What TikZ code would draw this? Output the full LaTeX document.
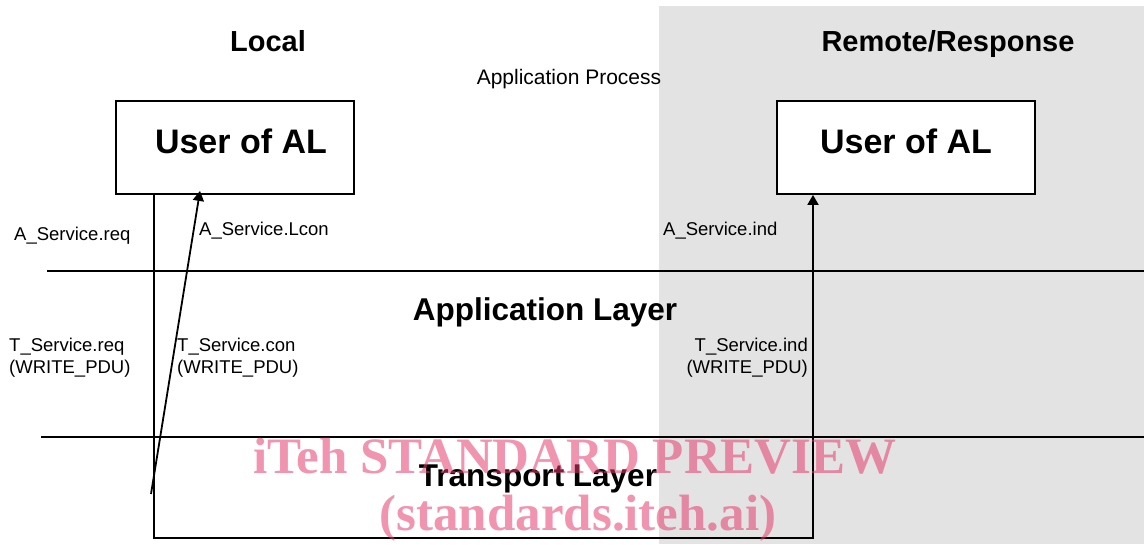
\documentclass[tikz,border=0pt]{standalone}
\usepackage{fontspec}
\setmainfont{Liberation Sans}
\newfontfamily\wmfont{Liberation Serif}
\usetikzlibrary{arrows.meta}
\definecolor{remotegray}{RGB}{227,227,227}
\definecolor{wmpink}{RGB}{230,60,110}
\tikzset{
  heading/.style={font=\fontsize{29}{32}\selectfont\bfseries, inner sep=0pt},
  userbox/.style={draw, line width=1.8pt, fill=white, inner sep=0pt,
    text height=24.5pt, text depth=12pt,
    font=\fontsize{34}{38}\selectfont\bfseries},
  layername/.style={font=\fontsize{31.5}{36}\selectfont\bfseries, inner sep=0pt},
  prim/.style={font=\fontsize{18.5}{22}\selectfont, inner sep=0pt},
  layerline/.style={line width=1.8pt},
  flow/.style={line width=1.8pt, -{Triangle[length=10pt,width=11pt]}},
  watermark/.style={font=\fontsize{51}{56}\selectfont\wmfont\bfseries,
    text=wmpink, text opacity=0.55, inner sep=0pt}
}
\begin{document}
\begin{tikzpicture}[x=1pt, y=-1pt]
\useasboundingbox (0,0) rectangle (1144,544);
% shaded remote side
\fill[remotegray] (659,6) rectangle (1144,544);

% headings
\node[heading, anchor=base] (local) at (268,51) {Local};
\node[heading, anchor=base] (remote) at (948,51) {Remote/Response};
\node[prim, font=\fontsize{21}{24}\selectfont, anchor=base] (proc) at (569,84) {Application Process};

% users of the application layer
\node[userbox, minimum width=238pt, minimum height=93pt] (lbox) at (235,147.5) {\hspace*{12pt}User of AL};
\node[userbox, minimum width=258pt, minimum height=93pt] (rbox) at (906,147.5) {User of AL};

% layer boundaries
\draw[layerline] (47,271) -- (1144,271);
\draw[layerline] (41,437) -- (1144,437);
\node[layername, anchor=base] (al) at (545,320) {Application Layer};
\node[layername, anchor=base] (tl) at (538,486) {Transport Layer};

% service primitives
\node[prim, anchor=base west] (areq) at (14,240) {A\_Service.req};
\node[prim, anchor=base west] (alcon) at (199,235) {A\_Service.Lcon};
\node[prim, anchor=base west] (aind) at (663,235) {A\_Service.ind};
\node[prim, anchor=base west, align=left] (treq) at (9,373) {T\_Service.req\\(WRITE\_PDU)};
\node[prim, anchor=base west, align=left] (tcon) at (177,373) {T\_Service.con\\(WRITE\_PDU)};
\node[prim, anchor=base east, align=right] (tind) at (808,373) {T\_Service.ind\\(WRITE\_PDU)};

% request travelling down, across and up to the remote user
\coordinate (turn) at (813,538);
\coordinate (lconfoot) at (151,494);
\draw[flow] ([xshift=39pt]lbox.south west) |- (turn) -- (rbox.south -| turn);
% local confirmation back up to the local user
\draw[flow] (lconfoot) -- ([xshift=-35pt,yshift=4pt]lbox.south);

% watermark
\node[watermark, anchor=base] (wm1) at (575,473) {iTeh STANDARD PREVIEW};
\node[watermark, anchor=base] (wm2) at (578,530) {(standards.iteh.ai)};
\end{tikzpicture}
\end{document}
